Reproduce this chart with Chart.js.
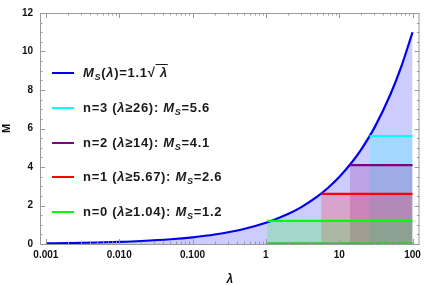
<!DOCTYPE html>
<html>
<head>
<meta charset="utf-8">
<script src="https://cdn.jsdelivr.net/npm/chart.js@4"></script>
<style>
  html,body{margin:0;padding:0;background:#fff;}
  #wrap{position:relative;width:426px;height:285px;}
  #c{position:absolute;left:0;top:0;}
  .lg{position:absolute;left:52px;font:bold 13px "Liberation Sans",Arial,sans-serif;letter-spacing:0.7px;color:#1a1a1a;white-space:nowrap;}
  .lg i.sw{display:inline-block;width:22px;height:2px;vertical-align:middle;margin-right:9px;position:relative;top:-1px;}
  .lg em{font-style:italic;}
  .lg sub{font-size:70%;vertical-align:-3px;line-height:0;}
  .sq{text-decoration:overline;}
</style>
</head>
<body>
<div id="wrap">
  <canvas id="c" width="426" height="285"></canvas>
  <div id="legend"></div>
</div>
<script>
'use strict';

/* ── DATA ────────────────────────────────────────────────── */
// curve M_S(λ)
const CURVE_L = [0.001,0.002,0.005,0.01,0.02,0.05,0.1,0.2,0.5,1,2,3,5,7,10,15,20,30,50,70,100];
const CURVE_M = [0.035,0.049,0.078,0.11,0.156,0.246,0.348,0.492,0.778,1.1,1.556,1.905,2.46,2.91,3.48,4.26,4.92,6.02,7.78,9.2,11.0];

// levels: n, threshold λ, value M_S, colour
const LEVEL_N     = [0, 1, 2, 3];
const LEVEL_FROM  = [1.04, 5.67, 14, 26];
const LEVEL_M     = [1.2, 2.6, 4.1, 5.6];
const LEVEL_COL   = ['0,255,0', '255,0,0', '128,0,128', '0,255,255'];
const LAMBDA_END  = 100;

const XTICK_VALS   = [0.001, 0.01, 0.1, 1, 10, 100];
const XTICK_LABELS = ['0.001', '0.010', '0.100', '1', '10', '100'];
const YTICK_VALS   = [0, 2, 4, 6, 8, 10, 12];

/* ── DATASETS ────────────────────────────────────────────── */
const datasets = [];
LEVEL_N.forEach((n, i) => {
  datasets.push({
    label: 'n=' + n,
    data: [{x: LEVEL_FROM[i], y: LEVEL_M[i]}, {x: LAMBDA_END, y: LEVEL_M[i]}],
    borderColor: 'rgb(' + LEVEL_COL[i] + ')', borderWidth: 2.2,
    backgroundColor: 'rgba(' + LEVEL_COL[i] + ',0.2)', fill: 'origin',
    pointRadius: 0
  });
});
// base line of the n=0 band
datasets.push({
  label: 'base',
  data: [{x: LEVEL_FROM[0], y: 0}, {x: LAMBDA_END, y: 0}],
  borderColor: 'rgb(60,190,60)', borderWidth: 3.5, fill: false, pointRadius: 0
});
datasets.push({
  label: 'curve',
  data: CURVE_L.map((l, i) => ({x: l, y: CURVE_M[i]})),
  borderColor: '#0000ee', borderWidth: 2.2,
  backgroundColor: 'rgba(0,0,255,0.2)', fill: 'origin',
  cubicInterpolationMode: 'monotone', pointRadius: 0
});

/* ── FRAME + INWARD TICKS ────────────────────────────────── */
const frame = {
  id: 'frame',
  afterDatasetsDraw(chart) {
    const {ctx, chartArea: a, scales: {x, y}} = chart;
    ctx.save();
    ctx.strokeStyle = '#9a9a9a';
    ctx.lineWidth = 1;
    ctx.strokeRect(a.left + 0.5, a.top + 0.5, a.right - a.left - 1, a.bottom - a.top);
    const tk = (x1, y1, x2, y2) => { ctx.beginPath(); ctx.moveTo(x1, y1); ctx.lineTo(x2, y2); ctx.stroke(); };
    // x: decades + minors
    XTICK_VALS.forEach((v, k) => {
      const px = Math.round(x.getPixelForValue(v)) + 0.5;
      tk(px, a.bottom, px, a.bottom - 5); tk(px, a.top, px, a.top + 5);
      if (k < XTICK_VALS.length - 1) {
        for (let s = 2; s <= 9; s++) {
          const mx = Math.round(x.getPixelForValue(v * s)) + 0.5;
          tk(mx, a.bottom, mx, a.bottom - 2.5); tk(mx, a.top, mx, a.top + 2.5);
        }
      }
    });
    // y: majors + minors
    for (let v = 0; v <= 12; v += 0.5) {
      const py = Math.round(y.getPixelForValue(v)) + 0.5;
      const len = v % 2 === 0 ? 5 : 2.5;
      tk(a.left, py, a.left + len, py); tk(a.right, py, a.right - len, py);
    }
    ctx.restore();
  }
};

/* ── CHART ───────────────────────────────────────────────── */
const FONT = "'Liberation Sans', Arial, sans-serif";
new Chart(document.getElementById('c'), {
  type: 'line',
  data: {datasets},
  plugins: [frame],
  options: {
    responsive: false, animation: false,
    layout: {padding: {left: 0, right: 6, top: 7, bottom: 0}},
    plugins: {legend: {display: false}, tooltip: {enabled: false}, filler: {drawTime: 'beforeDatasetsDraw'}},
    scales: {
      x: {
        type: 'logarithmic', min: 0.000832, max: 124.5,
        afterBuildTicks: s => { s.ticks = XTICK_VALS.map(v => ({value: v})); },
        afterFit: s => { s.height = 41; },
        grid: {display: false, drawTicks: false}, border: {display: false},
        ticks: {autoSkip: false, maxRotation: 0, padding: 5, color: '#111',
          font: {family: FONT, size: 10, weight: 'bold'},
          callback: (v) => { const k = XTICK_VALS.indexOf(v); return k >= 0 ? XTICK_LABELS[k] : ''; }},
        title: {display: true, text: 'λ', color: '#111', padding: {top: 4, bottom: -2},
          font: {family: FONT, size: 12, weight: 'bold', style: 'italic'}}
      },
      y: {
        min: 0, max: 12,
        afterBuildTicks: s => { s.ticks = YTICK_VALS.map(v => ({value: v})); },
        afterFit: s => { s.width = 40; },
        grid: {display: false, drawTicks: false}, border: {display: false},
        ticks: {padding: 7, color: '#111', font: {family: FONT, size: 10, weight: 'bold'}},
        title: {display: true, text: 'M', color: '#111', padding: {top: 0, bottom: 0},
          font: {family: FONT, size: 11, weight: 'bold'}}
      }
    }
  }
});

/* ── LEGEND (HTML, for sub/italics) ──────────────────────── */
const LEG_TOP = [73, 108, 143, 177, 212];
const rows = [
  {col: '#0000ee', html: '<em>M<sub>S</sub></em>(<em>λ</em>)=1.1√<span class="sq"><em>&nbsp;λ</em></span>'}
].concat(LEVEL_N.slice().reverse().map(n => {
  const i = LEVEL_N.indexOf(n);
  return {
    col: 'rgb(' + LEVEL_COL[i] + ')',
    html: 'n=' + n + ' (<em>λ</em>≥' + LEVEL_FROM[i] + '): <em>M<sub>S</sub></em>=' + LEVEL_M[i]
  };
}));
document.getElementById('legend').innerHTML = rows.map((r, k) =>
  `<div class="lg" style="top:${LEG_TOP[k] - 8}px"><i class="sw" style="background:${r.col}"></i>${r.html}</div>`
).join('');
</script>
</body>
</html>
